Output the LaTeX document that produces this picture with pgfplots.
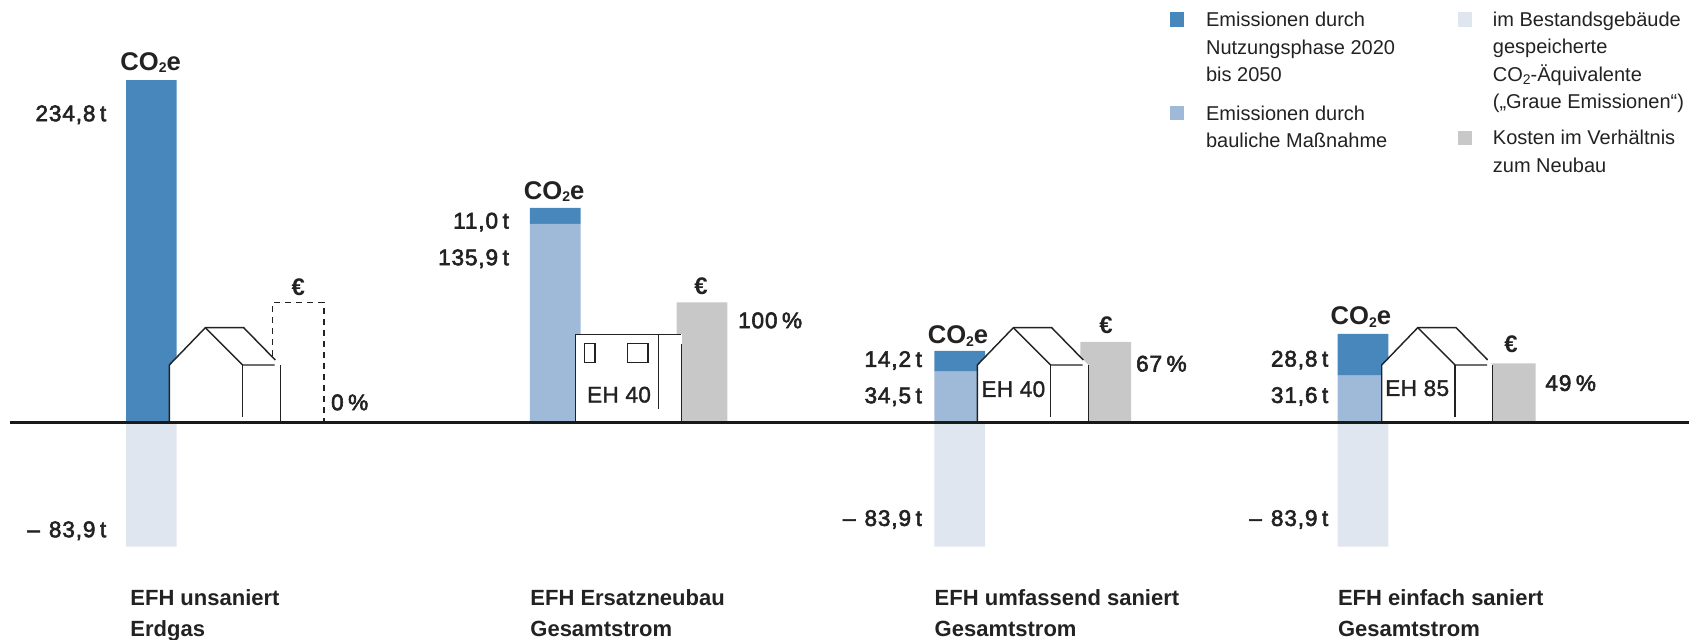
\documentclass[border=0pt]{standalone}
\usepackage{fontspec}
\setmainfont{Liberation Sans}
\newfontface\medfont{Liberation Sans}[FakeBold=2.5,LetterSpace=3.8]
\newfontface\ehfont{Liberation Sans}[FakeBold=1.5,LetterSpace=1.5]
\newfontface\regfont{Liberation Sans}
\newfontface\boldfont{Liberation Sans Bold}
\usepackage{pgfplots}
\pgfplotsset{compat=1.18}
\definecolor{cnutz}{HTML}{4787BC}
\definecolor{cbau}{HTML}{9FBAD8}
\definecolor{cgrau}{HTML}{E0E6EF}
\definecolor{ccost}{HTML}{C8C8C8}
\definecolor{cink}{HTML}{222222}
\pgfplotsset{base/.style={
  at={(0,0)},anchor=south west,scale only axis,
  width=844.5pt,height=319.5pt,
  xmin=0,xmax=1689,hide axis,clip=false,
  bar width=25.35pt}}
\newcommand{\vallab}[3]{\node[anchor=base east,inner sep=0,text=cink] at ({#1},{#2-7.5}) {\fontsize{11.3}{13}\selectfont\medfont #3};}
\newcommand{\pctlab}[3]{\node[anchor=base west,inner sep=0,text=cink] at ({#1},{#2-7.5}) {\fontsize{11.3}{13}\selectfont\medfont #3};}
\newcommand{\cotwo}[3]{\node[anchor=base,inner sep=0,text=cink] at ({#1},{#2-8.5}) {\fontsize{12.8}{14}\selectfont\boldfont CO\raisebox{-0.1em}{\fontsize{7}{8}\selectfont 2}e};}
\newcommand{\euro}[2]{\node[anchor=base,inner sep=0,text=cink] at ({#1},{#2-8.5}) {\fontsize{12}{14}\selectfont\boldfont €};}
\newcommand{\cat}[3]{%
 \node[anchor=base west,inner sep=0,text=cink] at ({#1-0.7},{421.7-605}) {\fontsize{11}{13}\selectfont\boldfont #2};
 \node[anchor=base west,inner sep=0,text=cink] at ({#1-0.7},{421.7-636.3}) {\fontsize{11}{13}\selectfont\boldfont #3};}
\newcommand{\leg}[3]{\node[anchor=base west,inner sep=0,text=cink] at ({#1},{421.7-#2}) {\fontsize{10}{12}\selectfont\regfont #3};}
\newcommand{\swatch}[3]{\fill[#3] (#1,{421.7-#2}) rectangle ({#1+14.4},{421.7-#2-14.4});}
\newcommand{\house}[1]{%
 \begin{scope}[xshift=#1*0.5pt,line width=0.72pt,draw=cink]
  \fill[white] (0,0)--(0,56.7)--(36,94)--(74.4,94)--(111,56.7)--(111,0)--cycle;
  \draw (0,0)--(0,56.7)--(36,94)--(74.4,94)--(106,61.7);
  \draw (36,94)--(73.4,56.7)--(105.4,56.7);
  \draw (73.4,56.7)--(73.4,5);
  \draw (111,56.7)--(111,0);
 \end{scope}}
\begin{document}
\begin{tikzpicture}
\useasboundingbox (0,0) rectangle (844.5pt,319.5pt);
% emissions (t)
\begin{axis}[base,ymin=-149.35,ymax=289.83,ybar stacked]
 \addplot[fill=cbau,draw=none] coordinates {(151.35,0) (555.15,135.9) (959.65,34.5) (1363,31.6)};
 \addplot[fill=cnutz,draw=none] coordinates {(151.35,234.8) (555.15,11.0) (959.65,14.2) (1363,28.8)};
\end{axis}
% stored emissions (t)
\begin{axis}[base,ymin=-145.84,ymax=283.02,ybar,bar shift=0pt]
 \addplot[fill=cgrau,draw=none] coordinates {(151.35,-83.9) (959.65,-83.9) (1363,-83.9)};
\end{axis}
% costs (percent of new build)
\begin{axis}[base,ymin=-182.15,ymax=353.5,ybar,bar shift=0pt]
 \addplot[fill=ccost,draw=none] coordinates {(298.35,0) (702,100) (1105.65,67) (1510.35,49)};
 \draw[cink,line width=0.6pt,dash pattern=on 3pt off 2.5pt] (axis cs:272.7,0)--(axis cs:272.7,100)--(axis cs:324,100)--(axis cs:324,0);
\end{axis}
\begin{scope}[x=0.5pt,y=0.5pt,shift={(0pt,108.65pt)}]
 % houses
 \house{169.3}
 \house{977.3}
 \house{1381.7}
 \fill[white] (575.7,0) rectangle (681.7,87.3);
 \begin{scope}[line width=0.72pt,draw=cink]
  \draw (575.7,0)--(575.7,87.3)--(681,87.3);
  \draw (681.7,77.7)--(681.7,0);
  \draw (658.3,87.3)--(658.3,12.3);
  \draw (584.3,59) rectangle (595,78.3);
  \draw (627.7,59) rectangle (648,78.3);
 \end{scope}
 \newcommand{\ehlab}[3]{\node[anchor=base,inner sep=0,text=cink] at ({#1},{#2-7.5}) {\fontsize{11.3}{13}\selectfont\ehfont #3};}
 \ehlab{619}{26.7}{EH 40}
 \ehlab{1013.3}{32.3}{EH 40}
 \ehlab{1417.2}{33.3}{EH 85}
 % baseline
 \draw[black!90,line width=1.5pt] (10,-0.7)--(1689,-0.7);
 % group labels
 \cotwo{150.7}{360}{}
 \cotwo{554.2}{231}{}
 \cotwo{958}{86.7}{}
 \cotwo{1360.9}{105.7}{}
 \euro{298.3}{135}
 \euro{701}{135.7}
 \euro{1106}{96.7}
 \euro{1511}{77.3}
 \vallab{106.7}{308}{234,8\hspace{0.2em}t}
 \vallab{106.7}{-108}{–\hspace{0.4em}83,9\hspace{0.2em}t}
 \vallab{509.3}{200.7}{11,0\hspace{0.2em}t}
 \vallab{509.3}{164}{135,9\hspace{0.2em}t}
 \vallab{922.3}{62.3}{14,2\hspace{0.2em}t}
 \vallab{922.3}{26}{34,5\hspace{0.2em}t}
 \vallab{922.3}{-96.7}{–\hspace{0.4em}83,9\hspace{0.2em}t}
 \vallab{1328.7}{62.7}{28,8\hspace{0.2em}t}
 \vallab{1328.7}{26.3}{31,6\hspace{0.2em}t}
 \vallab{1328.7}{-96.7}{–\hspace{0.4em}83,9\hspace{0.2em}t}
 \pctlab{330.7}{19}{0\hspace{0.2em}\%}
 \pctlab{737.7}{101}{100\hspace{0.2em}\%}
 \pctlab{1135.7}{57.7}{67\hspace{0.2em}\%}
 \pctlab{1545}{38.3}{49\hspace{0.2em}\%}
 \cat{130.7}{EFH unsaniert}{Erdgas}
 \cat{530.7}{EFH Ersatzneubau}{Gesamtstrom}
 \cat{935}{EFH umfassend saniert}{Gesamtstrom}
 \cat{1338.3}{EFH einfach saniert}{Gesamtstrom}
 % legend
 \swatch{1170}{12.3}{cnutz}
 \swatch{1170}{105.5}{cbau}
 \swatch{1457.5}{12.3}{cgrau}
 \swatch{1457.5}{130.5}{ccost}
 \leg{1205.7}{26.7}{Emissionen durch}
 \leg{1205.7}{54.2}{Nutzungsphase 2020}
 \leg{1205.7}{81.5}{bis 2050}
 \leg{1205.7}{120}{Emissionen durch}
 \leg{1205.7}{147}{bauliche Maßnahme}
 \leg{1492.5}{26.7}{im Bestandsgebäude}
 \leg{1492.5}{53.5}{gespeicherte}
 \leg{1492.5}{81}{CO\raisebox{-0.15em}{\fontsize{7}{8}\selectfont 2}-Äquivalente}
 \leg{1492.5}{108.3}{(„Graue Emissionen“)}
 \leg{1492.5}{144.7}{Kosten im Verhältnis}
 \leg{1492.5}{172.3}{zum Neubau}
\end{scope}
\end{tikzpicture}
\end{document}
